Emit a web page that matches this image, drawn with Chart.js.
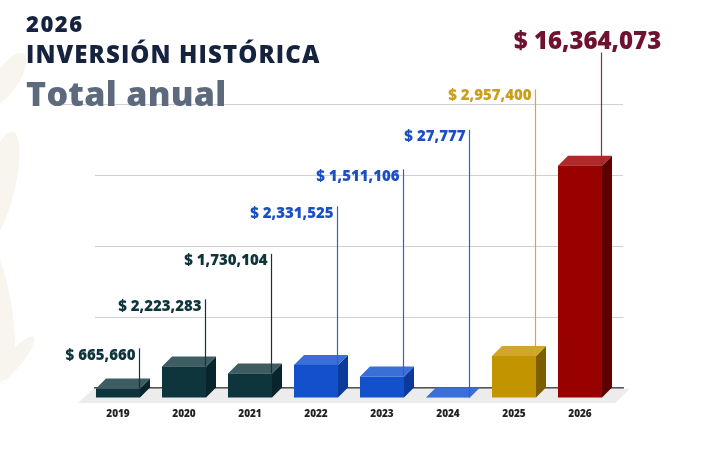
<!DOCTYPE html>
<html>
<head>
<meta charset="utf-8">
<script src="https://cdn.jsdelivr.net/npm/chart.js@4.4.1/dist/chart.umd.min.js"></script>
<style>
  html, body { margin: 0; padding: 0; background: #fff; }
  #wrap { position: relative; width: 708px; height: 463px; overflow: hidden; }
  canvas { position: absolute; left: 0; top: 0; }
  .t { position: absolute; left: 26px; font-family: "Open Sans", sans-serif; font-weight: 800; line-height: 1; white-space: nowrap; }
</style>
</head>
<body>
<div id="wrap">
  <canvas id="chart" width="708" height="463"></canvas>
  <div class="t" style="top:12px;font-size:22px;letter-spacing:1.5px;color:#16233f">2026</div>
  <div class="t" style="top:42px;font-size:24px;letter-spacing:1.1px;color:#16233f">INVERSIÓN HISTÓRICA</div>
  <div class="t" style="top:76px;font-size:34px;color:#5d6a7e;letter-spacing:0.3px">Total anual</div>
</div>
<script>
const years = ["2019", "2020", "2021", "2022", "2023", "2024", "2025", "2026"];
const amounts = [665660, 2223283, 1730104, 2331525, 1511106, 27777, 2957400, 16364073];
// where each value callout sits, in axis units (millions)
const calloutLevels = [2.3, 5.75, 8.95, 12.3, 14.9, 17.7, 20.55, 24.4];

const palette = {
  teal: { front: "#0e343c", top: "#3e5d62", side: "#08252b", text: "#0e343c", line: "#0e343c" },
  blue: { front: "#1351cc", top: "#3a6fd8", side: "#0c3a9a", text: "#1b4fc4", line: "#2a62d6" },
  gold: { front: "#c29500", top: "#d3a52c", side: "#7d5f00", text: "#c9a01c", line: "#d9a928" },
  red:  { front: "#990000", top: "#b02a2a", side: "#5e0000", text: "#6e1230", line: "#7d3445" }
};
const barPalette = ["teal", "teal", "teal", "blue", "blue", "blue", "gold", "red"];

const DX = 10, DY = 10; // 3D depth offset

const bars3d = {
  id: "bars3d",
  beforeDraw(chart) {
    // faint leaves in the background
    const c = chart.ctx;
    c.save();
    c.fillStyle = "#f8f4ee";
    [[6, 80, 32, 12, 0.6], [-2, 190, 60, 16, 0.25], [-4, 310, 70, 16, -0.15], [14, 360, 30, 8, 0.7]].forEach(l => {
      c.beginPath();
      c.ellipse(l[0], l[1], l[3], l[2], l[4], 0, Math.PI * 2);
      c.fill();
    });
    c.restore();
  },
  beforeDatasetsDraw(chart) {
    const c = chart.ctx, a = chart.chartArea, y = chart.scales.y;
    c.save();
    // floor
    c.fillStyle = "#ececec";
    c.beginPath();
    c.moveTo(a.left - 2, a.bottom + 1);
    c.lineTo(a.right + 7, a.bottom + 1);
    c.lineTo(a.right - 8, a.bottom + 15);
    c.lineTo(a.left - 17, a.bottom + 15);
    c.closePath();
    c.fill();
    // top grid line runs under the subtitle
    c.strokeStyle = "#d0d0d0";
    c.lineWidth = 1;
    const ty = Math.round(y.getPixelForValue(y.max)) + 0.5;
    c.beginPath();
    c.moveTo(62, ty);
    c.lineTo(a.left, ty);
    c.stroke();
    c.restore();
  },
  afterDatasetsDraw(chart) {
    const c = chart.ctx, y = chart.scales.y;
    const meta = chart.getDatasetMeta(0);
    c.save();
    meta.data.forEach((el, i) => {
      const p = palette[barPalette[i]];
      const l = el.x - el.width / 2, r = el.x + el.width / 2;
      const t = el.y, b = el.base;
      // side
      c.fillStyle = p.side;
      c.beginPath();
      c.moveTo(r - DX, t + DY); c.lineTo(r, t); c.lineTo(r, b); c.lineTo(r - DX, b + DY);
      c.closePath(); c.fill();
      // top
      c.fillStyle = p.top;
      c.beginPath();
      c.moveTo(l - DX, t + DY); c.lineTo(l, t); c.lineTo(r, t); c.lineTo(r - DX, t + DY);
      c.closePath(); c.fill();
      // front
      c.fillStyle = p.front;
      c.fillRect(l - DX, t + DY, el.width, b - t);
    });
    // callouts
    meta.data.forEach((el, i) => {
      const p = palette[barPalette[i]];
      const lx = Math.round(el.x + el.width / 2 - DX - 1) + 0.5;
      const ly = y.getPixelForValue(calloutLevels[i] * 1e6);
      const big = i === amounts.length - 1;
      const txt = "$ " + amounts[i].toLocaleString("en-US");
      c.strokeStyle = p.line;
      c.lineWidth = 1.2;
      c.beginPath();
      c.moveTo(lx, big ? ly + 11 : ly - 7);
      c.lineTo(lx, el.y + DY);
      c.stroke();
      c.fillStyle = p.text;
      c.textBaseline = "middle";
      if (big) {
        c.font = "800 24px 'Open Sans'";
        c.textAlign = "center";
        c.fillText(txt, lx - 14, ly + 1);
      } else {
        c.font = "800 15px 'Open Sans'";
        c.textAlign = "right";
        c.fillText(txt, lx - 4, ly);
      }
    });
    c.restore();
  }
};

new Chart(document.getElementById("chart"), {
  type: "bar",
  data: {
    labels: years,
    datasets: [{
      data: amounts,
      backgroundColor: "rgba(0,0,0,0)",
      borderWidth: 0,
      barPercentage: 0.667,
      categoryPercentage: 1
    }]
  },
  options: {
    responsive: false,
    animation: false,
    devicePixelRatio: 1,
    layout: { padding: { left: 95, right: 85, top: 104, bottom: 0 } },
    plugins: { legend: { display: false }, tooltip: { enabled: false } },
    scales: {
      x: {
        grid: { display: false, drawTicks: false },
        border: { color: "#555", width: 1.5 },
        ticks: { labelOffset: -10, padding: 20, color: "#222", font: { family: "Open Sans", weight: "800", size: 10 } },
        afterFit: s => { s.height = 75; }
      },
      y: {
        min: 0,
        max: 20000000,
        ticks: { display: false, stepSize: 5000000 },
        grid: { color: "#d0d0d0", drawTicks: false },
        border: { display: false },
        afterFit: s => { s.width = 0; }
      }
    }
  },
  plugins: [bars3d]
});
</script>
</body>
</html>
